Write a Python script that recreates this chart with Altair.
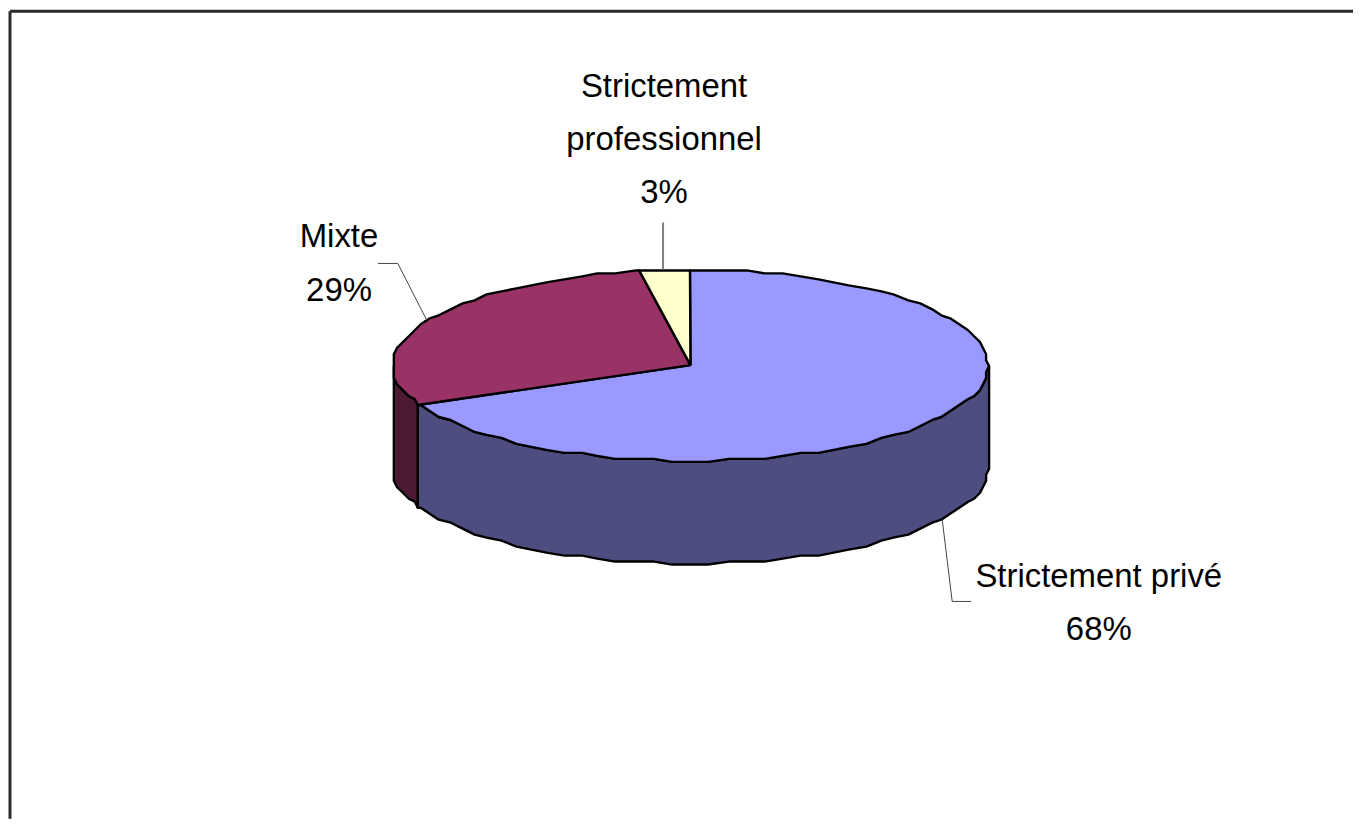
import math
import altair as alt
import pandas as pd

# Values (slice sizes as drawn; the labels show them rounded)
LABELS = ["Strictement privé", "Mixte", "Strictement professionnel"]
SHARES = [68.3, 29.0, 2.7]
TOP_COLORS = ["#9999FF", "#993366", "#FFFFCC"]
SIDE_COLORS = ["#4D4D80", "#4D1933", "#808066"]

# Label lines: text, x, y in page pixels
LABEL_LINES = [
    ("Strictement", 664, 86), ("professionnel", 664, 139), ("3%", 664, 192),
    ("Mixte", 338, 237), ("29%", 338, 291),
    ("Strictement privé", 1100, 578), ("68%", 1100, 631),
]
LEADERS = [
    [(663, 222), (663, 269)],
    [(377, 263), (397, 263), (426, 320)],
    [(943, 520), (953, 602), (972, 602)],
]

W, H = 1347, 810
CX, CY, RX, RY, DEPTH = 690.5, 365, 298.5, 96, 103
STEP_DEG, GRID = 3.6, 3.0

xs = alt.Scale(domain=[8, 8 + W], range=[0, W])
ys = alt.Scale(domain=[10, 10 + H], range=[0, H])


def pt(deg):
    a = math.radians(deg)
    x = CX + RX * math.sin(a)
    y = CY - RY * math.cos(a)
    return (round(x / GRID) * GRID, round(y / GRID) * GRID)


def arc(d0, d1):
    # Sample on one shared angle grid so top face and wall share their edge
    first = math.floor(d0 / STEP_DEG) + 1
    last = math.ceil(d1 / STEP_DEG) - 1
    inner = [pt(i * STEP_DEG) for i in range(first, last + 1)]
    return [pt(d0)] + inner + [pt(d1)]


def poly(points, fill=None, stroke="black", width=2.4):
    df = pd.DataFrame(
        [{"x": p[0], "y": p[1], "i": i} for i, p in enumerate(points)]
    )
    kw = dict(stroke=stroke, strokeWidth=width, strokeJoin="round", clip=True)
    if fill:
        kw["fill"] = fill
    return alt.Chart(df).mark_line(**kw).encode(
        x=alt.X("x:Q", scale=xs, axis=None),
        y=alt.Y("y:Q", scale=ys, axis=None),
        order="i:Q",
    )


layers = []
bounds = [0]
for s in SHARES:
    bounds.append(bounds[-1] + s * 3.6)

# Side wall: the front half of the ellipse, from 90° to 270°
for k in range(2):
    lo, hi = max(bounds[k], 90), min(bounds[k + 1], 270)
    if hi > lo:
        top = arc(lo, hi)
        bottom = [(x, y + DEPTH) for x, y in reversed(top)]
        layers.append(poly(top + bottom + [top[0]], SIDE_COLORS[k]))

# Top face
for k in range(3):
    edge = arc(bounds[k], bounds[k + 1])
    centre = (CX, CY)
    layers.append(poly([centre] + edge + [centre], TOP_COLORS[k]))

# Leader lines
for n, line in enumerate(LEADERS):
    layers.append(poly(line, None, "#808080" if n == 0 else "#444444",
                       2.0 if n == 0 else 1.0))

# Labels
lab = pd.DataFrame(LABEL_LINES, columns=["t", "x", "y"])
layers.append(
    alt.Chart(lab).mark_text(
        font="Liberation Sans", fontSize=33, color="black",
        align="center", baseline="middle",
    ).encode(
        x=alt.X("x:Q", scale=xs, axis=None),
        y=alt.Y("y:Q", scale=ys, axis=None),
        text="t:N",
    )
)

# Window frame
frame_df = pd.DataFrame({"a": [0]})
layers.append(alt.Chart(frame_df).mark_rule(color="#2a2a2a", strokeWidth=3).encode(
    x=alt.value(0), y=alt.value(0), y2=alt.value(H)))
layers.append(alt.Chart(frame_df).mark_rule(color="#2a2a2a", strokeWidth=3).encode(
    x=alt.value(0), x2=alt.value(W), y=alt.value(0)))

chart = alt.layer(*layers).properties(
    width=W, height=H, padding=0, background="white"
).configure_view(stroke=None)

chart.save("out.html", embed_options={"renderer": "svg", "actions": False})
